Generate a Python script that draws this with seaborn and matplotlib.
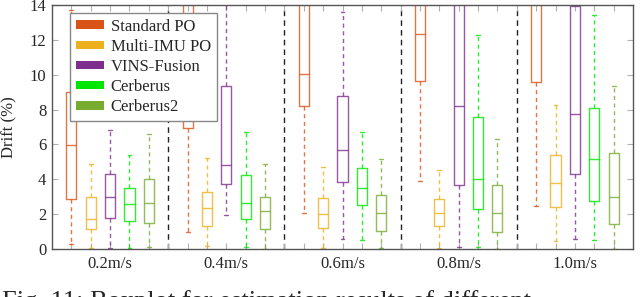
import matplotlib
matplotlib.use("Agg")
import pandas as pd
import seaborn as sns
import matplotlib.pyplot as plt
from matplotlib.patches import Patch

sns.set_style("ticks")
plt.rcParams['font.family'] = ['Liberation Serif', 'DejaVu Serif']

speeds = ['0.2m/s', '0.4m/s', '0.6m/s', '0.8m/s', '1.0m/s']
methods = ['Standard PO', 'Multi-IMU PO', 'VINS-Fusion', 'Cerberus', 'Cerberus2']
colors = ['#D95319', '#EDB120', '#7E2F8E', '#00E600', '#77AC30']

# five-number summary per speed: [whisker low, q1, median, q3, whisker high]
# (values above 14 are off the top of the original axis)
standard_po = [[0.27, 2.85, 5.95, 9.0, 13.7],
               [0.95, 6.94, 15.0, 18.0, 22.0],
               [2.08, 8.2, 10.02, 16.0, 20.0],
               [3.92, 9.64, 12.35, 16.0, 20.0],
               [2.48, 9.6, 15.0, 18.0, 22.0]]
multi_imu_po = [[0.03, 1.13, 1.72, 3.0, 4.88],
                [0.17, 1.32, 2.37, 3.25, 5.2],
                [0.04, 1.19, 2.01, 2.94, 4.72],
                [0.04, 1.32, 2.08, 2.89, 4.53],
                [0.48, 2.43, 3.77, 5.38, 8.26]]
vins_fusion = [[0.05, 1.78, 3.0, 4.32, 6.83],
               [1.97, 3.71, 4.82, 9.35, 16.0],
               [0.56, 3.86, 5.68, 8.78, 13.6],
               [0.1, 3.65, 8.2, 15.0, 18.0],
               [0.59, 4.3, 7.73, 13.93, 16.0]]
cerberus = [[0.03, 1.62, 2.56, 3.48, 5.41],
            [0.1, 1.74, 2.64, 4.25, 6.69],
            [0.52, 2.54, 3.48, 4.63, 6.69],
            [0.1, 2.28, 4.02, 7.59, 12.28],
            [0.52, 2.74, 5.16, 8.07, 13.42]]
cerberus2 = [[0.13, 1.47, 2.66, 4.03, 6.6],
             [0.02, 1.13, 2.16, 3.0, 4.86],
             [0.04, 1.03, 2.08, 3.08, 5.15],
             [0.02, 0.99, 2.08, 3.65, 6.29],
             [0.02, 1.43, 3.0, 5.49, 9.35]]

series = [standard_po, multi_imu_po, vins_fusion, cerberus, cerberus2]

# one slot per method plus one empty slot as a group separator
step = len(methods) + 1
rows = []
for gi, speed in enumerate(speeds):
    for mi, method in enumerate(methods):
        for v in series[mi][gi]:
            rows.append({'pos': gi * step + mi + 1, 'method': method, 'drift': v})
df = pd.DataFrame(rows)

fig = plt.figure(figsize=(6.4, 2.97), dpi=100)
ax = fig.add_axes([52 / 640, 1 - 249 / 297, 581 / 640, 244 / 297])

sns.boxplot(data=df, x='pos', y='drift', hue='method', hue_order=methods,
            palette=colors, native_scale=True, dodge=False, whis=(0, 100),
            fill=False, width=0.52, linewidth=1.0, legend=False,
            boxprops=dict(alpha=0.8), medianprops=dict(alpha=0.8),
            capprops=dict(alpha=0.8),
            whiskerprops=dict(linestyle=(0, (3, 2.5)), alpha=0.8),
            capwidths=0.2, ax=ax)

for gi in range(1, len(speeds)):
    ax.axvline(gi * step, color='#222222', ls=(0, (4, 3)), lw=1.0, zorder=0)

ax.set_xlim(0, len(speeds) * step)
ax.set_ylim(0, 14)
ax.set_yticks(range(0, 15, 2))
all_pos = list(range(1, len(speeds) * step))
ax.set_xticks(all_pos)
ax.set_xticklabels([speeds[(p - 1) // step] if (p - 1) % step == 2 else '' for p in all_pos])
ax.tick_params(axis='x', direction='in', top=True, length=4, color='#b0b0b0',
               labelsize=12, pad=5)
ax.tick_params(axis='y', direction='in', right=True, length=4, color='#b0b0b0',
               labelsize=12, pad=4)
ax.set_xlabel('')
ax.set_ylabel('Drift (%)', fontsize=12, labelpad=9)
for sp in ax.spines.values():
    sp.set_color('#555555')
    sp.set_linewidth(1.0)

handles = [Patch(facecolor=c, edgecolor='none', label=m) for c, m in zip(colors, methods)]
leg = ax.legend(handles=handles, loc='upper left', bbox_to_anchor=(0.031, 0.968),
                borderaxespad=0, fontsize=12, frameon=True, fancybox=False,
                framealpha=1, edgecolor='#888888', handlelength=1.7,
                handleheight=0.4, handletextpad=0.4, labelspacing=0.25,
                borderpad=0.35)
leg.get_frame().set_linewidth(1.0)

# figure caption, cut by the lower edge as in the source image
fig.text(0.003, -11 / 297, 'Fig. 11: Boxplot for estimation results of different',
         fontsize=19, va='baseline', ha='left')

fig.savefig('out.png', dpi=100)
